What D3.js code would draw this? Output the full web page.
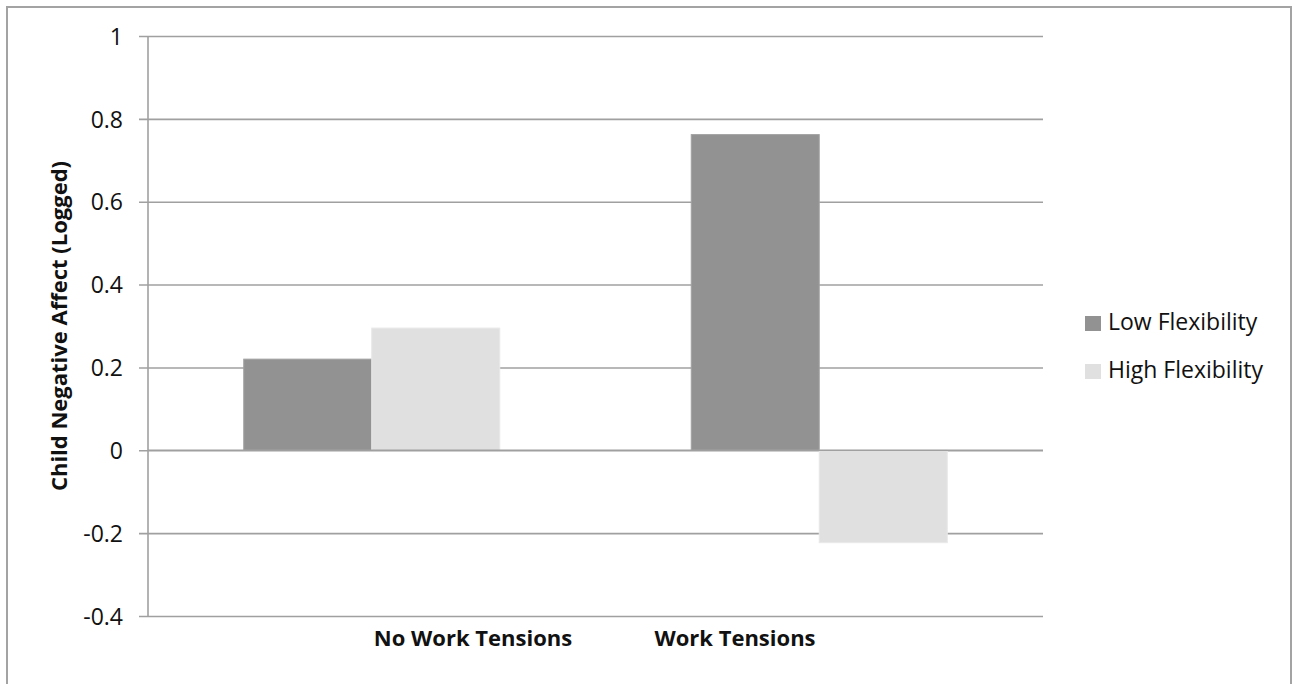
<!DOCTYPE html>
<html>
<head>
<meta charset="utf-8">
<script src="https://cdn.jsdelivr.net/npm/d3@7"></script>
<style>
  html, body { margin: 0; padding: 0; background: #fff; }
  svg { display: block; }
  svg text { font-family: "Open Sans", "Noto Sans", sans-serif; }
</style>
</head>
<body>
<svg id="chart" width="1296" height="684"></svg>
<script>
// Child negative affect by work tensions and schedule flexibility
const categories = ["No Work Tensions", "Work Tensions"];
const seriesNames = ["Low Flexibility", "High Flexibility"];
const lowFlexibility = [0.22, 0.762];
const highFlexibility = [0.295, -0.223];
const yTicks = [-0.4, -0.2, 0, 0.2, 0.4, 0.6, 0.8, 1];
const colors = ["#929292", "#e0e0e0"];

const svg = d3.select("#chart");
const plot = { left: 148, right: 1043, top: 36, bottom: 616 };

// outer chart frame
svg.append("rect")
  .attr("x", 7).attr("y", 7)
  .attr("width", 1284).attr("height", 690)
  .attr("fill", "#fff")
  .attr("stroke", "#a3a3a3").attr("stroke-width", 2);

const y = d3.scaleLinear().domain([-0.4, 1]).range([plot.bottom, plot.top]);
const x0 = d3.scaleBand().domain(categories).range([plot.left, plot.right]).paddingInner(0).paddingOuter(0);
const x1 = d3.scaleBand().domain(seriesNames).range([0, x0.bandwidth()]).paddingInner(0).paddingOuter(0.748);

// horizontal gridlines with tick marks on the left
const yAxis = d3.axisLeft(y).tickValues(yTicks)
  .tickSize(-(plot.right - plot.left))
  .tickFormat(d => String(+d.toFixed(1)));
const gy = svg.append("g").attr("transform", `translate(${plot.left},0)`).call(yAxis)
  .attr("font-family", null).attr("font-size", null);
gy.select(".domain").remove();
gy.selectAll(".tick line")
  .attr("x1", -9)
  .attr("stroke", "#a0a0a0").attr("stroke-width", 1.6);
gy.selectAll(".tick text")
  .attr("font-size", 23).attr("fill", "#111")
  .attr("dy", "0.36em").attr("x", -25);

// bars
const rows = categories.map((c, i) => ({ cat: c, vals: [lowFlexibility[i], highFlexibility[i]] }));
const groups = svg.append("g").selectAll("g").data(rows).join("g")
  .attr("transform", d => `translate(${x0(d.cat)},0)`);
groups.selectAll("rect")
  .data(d => d.vals.map((v, j) => ({ key: seriesNames[j], v, j })))
  .join("rect")
  .attr("x", d => x1(d.key))
  .attr("width", x1.bandwidth())
  .attr("y", d => y(Math.max(0, d.v)))
  .attr("height", d => Math.abs(y(d.v) - y(0)))
  .attr("fill", d => colors[d.j])
  .attr("stroke", d => d.j === 0 ? "#a2a2a2" : "#e8e8e8")
  .attr("stroke-width", 1);

// zero baseline drawn over bars
svg.append("line")
  .attr("x1", plot.left).attr("x2", plot.right)
  .attr("y1", y(0)).attr("y2", y(0))
  .attr("stroke", "#a0a0a0").attr("stroke-width", 1.6);

// vertical axis line
svg.append("line")
  .attr("x1", plot.left).attr("x2", plot.left)
  .attr("y1", plot.top).attr("y2", plot.bottom)
  .attr("stroke", "#a0a0a0").attr("stroke-width", 1.6);

// category labels
const labelX = d3.scalePoint().domain(categories).range([473, 735]);
svg.append("g").selectAll("text").data(categories).join("text")
  .attr("x", d => labelX(d))
  .attr("y", 646)
  .attr("text-anchor", "middle")
  .attr("font-size", 22).attr("font-weight", "bold").attr("fill", "#111")
  .text(d => d);

// y-axis title
svg.append("text")
  .attr("transform", `translate(67,${(plot.top + plot.bottom) / 2}) rotate(-90)`)
  .attr("text-anchor", "middle")
  .attr("font-size", 22).attr("font-weight", "bold").attr("fill", "#111")
  .text("Child Negative Affect (Logged)");

// legend
const legend = svg.append("g").attr("transform", "translate(1085,316)");
const li = legend.selectAll("g").data(seriesNames).join("g")
  .attr("transform", (d, i) => `translate(0,${i * 48})`);
li.append("rect").attr("width", 16).attr("height", 15)
  .attr("fill", (d, i) => colors[i]);
li.append("text").attr("x", 23).attr("y", 14)
  .attr("font-size", 23).attr("fill", "#111")
  .text(d => d);
</script>
</body>
</html>
